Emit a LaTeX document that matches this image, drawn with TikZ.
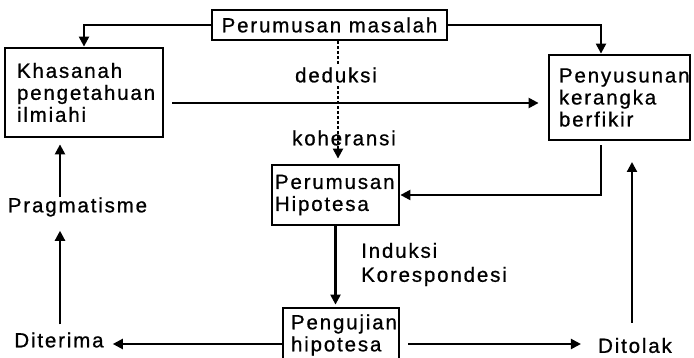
\documentclass[tikz,border=0pt]{standalone}
\usepackage{fontspec}
\setmainfont{Liberation Sans}[LetterSpace=9,FakeBold=0.8]
\usetikzlibrary{arrows.meta}
\begin{document}
\begin{tikzpicture}[x=1pt,y=-1pt,
  font=\fontsize{20.5pt}{22pt}\selectfont,
  box/.style={draw, line width=2.8pt, align=left, inner ysep=0pt},
  lbl/.style={inner sep=0pt},
  link/.style={line width=2.2pt, -{Triangle[length=10pt,width=10pt]}},
  dashlink/.style={link, dash pattern=on 3pt off 2pt},
]
\useasboundingbox (0,0) rectangle (694,358);
\clip (0,0) rectangle (694,358);

% guide coordinates for the connectors
\coordinate (lx) at (60,0);
\coordinate (rx) at (601,0);
\coordinate (dx) at (338,0);
\coordinate (hy) at (0,103);
\coordinate (by) at (0,344);
\coordinate (uptip) at (632,162);

% boxes
\node[box, minimum width=235pt, minimum height=30pt, inner xsep=0pt] (masalah) at (329.5,25) {Perumusan masalah};
\node[box, text width=134pt, inner xsep=12pt, minimum height=89pt] (khasanah) at (84,92.5) {Khasanah\\pengetahuan\\ilmiahi};
\node[box, text width=121pt, inner xsep=10pt, minimum height=85pt] (penyusunan) at (619.5,97.5) {Penyusunan\\kerangka\\berfikir};
\node[box, text width=121pt, inner xsep=3pt, minimum height=60pt] (hipotesa) at (335.5,195) {Perumusan\\Hipotesa};
\node[box, text width=100pt, inner xsep=8pt, minimum height=54pt] (pengujian) at (341,335) {Pengujian\\hipotesa};

% dashed deduction line, label laid over it
\draw[dashlink, shorten >=5pt] (masalah.south -| dx) -- (hipotesa.north -| dx);
\node[lbl, fill=white, inner sep=2pt] (deduksi) at (336,75) {deduksi};
\node[lbl] (koheransi) at (344,138) {koheransi};

% outcome labels
\node[lbl] (pragmatisme) at (77.5,207) {Pragmatisme};
\node[lbl] (diterima) at (59,340) {Diterima};
\node[lbl] (ditolak) at (635,345.5) {Ditolak};
\node[lbl, align=left, anchor=west, font=\fontsize{20.5pt}{24pt}\selectfont] (induksi) at (361,264.5) {Induksi\\Korespondesi};

% connectors
\draw[link] (masalah.west) -| (khasanah.north);
\draw[link] (masalah.east) -| (rx |- penyusunan.north);
\draw[link, shorten <=8pt, shorten >=9pt] (khasanah.east |- hy) -- (penyusunan.west |- hy);
\draw[link, shorten <=4pt] (rx |- penyusunan.south) |- (hipotesa.east);
\draw[link, shorten >=2pt] (hipotesa.south) -- (hipotesa.south |- pengujian.north);
\draw[link, shorten >=9pt] (pengujian.west |- by) -- (diterima.east |- by);
\draw[link, shorten <=8pt, shorten >=17pt] (pengujian.east |- by) -- (ditolak.west |- by);
\draw[link, shorten <=15pt] (ditolak.north -| uptip) -- (uptip);
\draw[link, shorten <=8pt, shorten >=14pt] (diterima.north -| lx) -- (pragmatisme.south -| lx);
\draw[link, shorten >=6pt] (pragmatisme.north -| lx) -- (khasanah.south -| lx);
\end{tikzpicture}
\end{document}
